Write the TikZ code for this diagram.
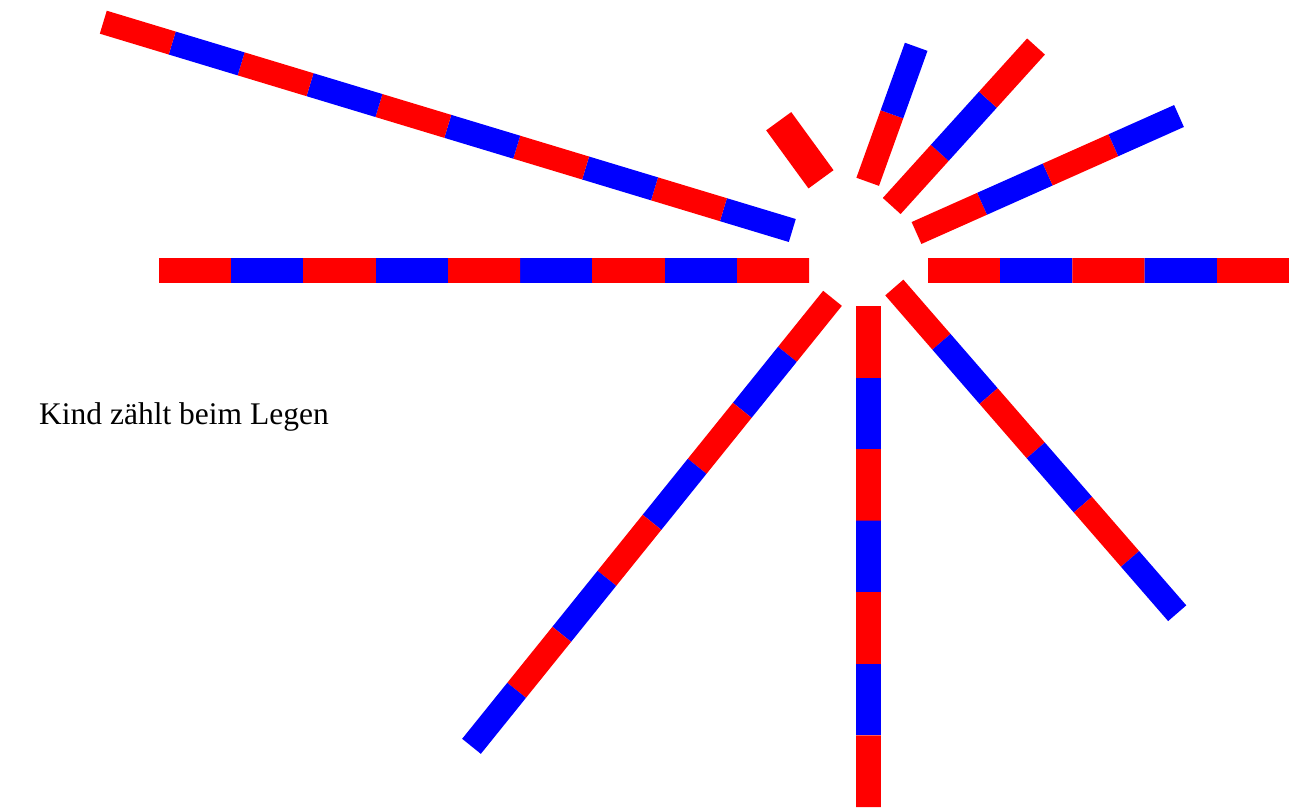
\documentclass[tikz,border=0pt]{standalone}
\usepackage{fontspec}
\setmainfont{Liberation Serif}
\usetikzlibrary{calc}
\definecolor{rod-red}{HTML}{FF0000}
\definecolor{rod-blue}{HTML}{0000FF}

\begin{document}
\begin{tikzpicture}[
    x=1pt, y=-1pt,
    caption/.style={anchor=base west, inner sep=0pt, font=\fontsize{31.5}{37}\selectfont},
    piece/.style={line cap=butt}
]
    \useasboundingbox (0,0) rectangle (1303,807);

    % rods: inner end / outer end / pieces / width / red first?
    \foreach \sx/\sy/\ex/\ey/\n/\w/\startred in {
        809/270.5/159/270.5/9/24.7/1,
        928/270.5/1289/270.5/5/24.7/1,
        868.5/306/868.5/807/7/24.7/1,
        832.5/298.3/471.5/746.3/8/24/1,
        894.3/287.5/1177.2/613.2/6/24/1,
        792.3/230.5/103.3/22.2/10/24/0,
        821/179.3/778.7/121.2/1/31/1,
        867.7/181.8/916.2/46.8/2/24/1,
        891.7/206/1036/46.5/3/24/1,
        916.5/233/1179/116/4/24/1}
    {
        \foreach \i in {1,...,\n} {
            \pgfmathtruncatemacro{\odd}{mod(\i+\startred,2)}
            \ifnum\odd=0 \def\piececol{rod-red}\else \def\piececol{rod-blue}\fi
            \draw[piece, line width=\w pt, draw=\piececol]
                ($(\sx,\sy)!{(\i-1)/\n}!(\ex,\ey)$) -- ($(\sx,\sy)!{\i/\n}!(\ex,\ey)$);
        }
    }

    \node[caption] (label) at (39,424.3) {Kind zählt beim Legen};
\end{tikzpicture}
\end{document}
